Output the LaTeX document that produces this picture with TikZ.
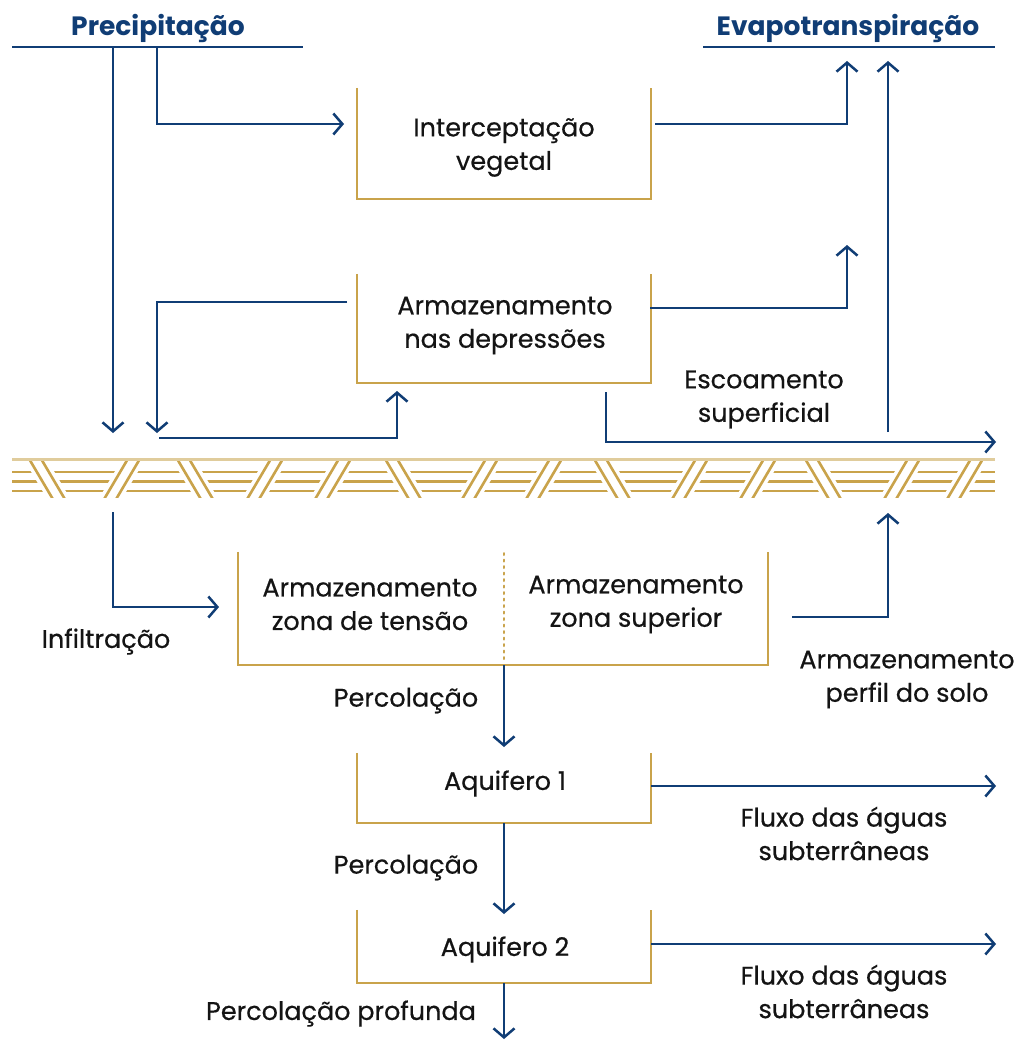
\documentclass[tikz,border=0pt]{standalone}
\usepackage{fontspec}
\setmainfont{Poppins}[UprightFeatures={FakeBold=0.5}]
\usetikzlibrary{arrows.meta}
\definecolor{navy}{RGB}{16,61,117}
\definecolor{gold}{RGB}{201,163,75}
\definecolor{paleGold}{RGB}{224,204,156}
\definecolor{ink}{RGB}{20,20,20}
\begin{document}
\begin{tikzpicture}[x=1pt,y=-1pt,
  wire/.style={draw=navy, line width=2.5pt},
  flow/.style={wire, -{Straight Barb[length=9pt,width=21pt]}},
  ubox/.style={draw=gold, line width=2.5pt},
  boxshape/.style={rectangle, inner sep=0pt, minimum width=294pt},
  txt/.style={align=center, text=ink, inner sep=0pt, yshift=-3.5pt,
              font=\fontsize{25.5}{33.5}\selectfont},
  head/.style={text=navy, inner sep=0pt, yshift=-4pt,
               font=\fontsize{26.5}{30}\selectfont\bfseries}]
\useasboundingbox[fill=white] (0,0) rectangle (1028,1041);

% headings
\node[head] (prec) at (158,24) {Precipitação};
\node[head] (evap) at (848,24) {Evapotranspiração};
\coordinate (precL) at (12,47);  \coordinate (precR) at (303,47);
\coordinate (evapL) at (703,47); \coordinate (evapR) at (995,47);
\draw[wire] (precL) -- (precR);
\draw[wire] (evapL) -- (evapR);

% storage boxes (open at the top)
\node[boxshape, minimum height=111pt] (icBox) at (504,143.5) {};
\node[boxshape, minimum height=109pt] (dpBox) at (504,328.5) {};
\node[rectangle, inner sep=0pt, minimum width=530pt, minimum height=113pt] (soilBox) at (503,608.5) {};
\node[boxshape, minimum height=70pt] (aq1Box) at (504,788) {};
\node[boxshape, minimum height=73pt] (aq2Box) at (504,946.5) {};
\foreach \b in {icBox,dpBox,soilBox,aq1Box,aq2Box}
  \draw[ubox] (\b.north west) |- (\b.south east) -- (\b.north east);
\draw[gold, line width=2pt, dash pattern=on 2pt off 4.5pt, line cap=round]
  (504,553) -- (504,660);

% box texts
\node[txt] (ic) at (504,144) {Interceptação\\vegetal};
\node[txt] (dp) at (505,322) {Armazenamento\\nas depressões};
\node[txt] (zt) at (370,601) {Armazenamento\\zona de tensão};
\node[txt] (zs) at (636,601) {Armazenamento\\zona superior};
\node[txt] (aq1) at (505,780) {Aquifero 1};
\node[txt] (aq2) at (505,946) {Aquifero 2};

% free labels
\node[txt] (esc) at (764,396) {Escoamento\\superficial};
\node[txt] (inf) at (106,638) {Infiltração};
\node[txt] (perf) at (907,676) {Armazenamento\\perfil do solo};
\node[txt] (perc1) at (406,697) {Percolação};
\node[txt] (flx1) at (844,830) {Fluxo das águas\\subterrâneas};
\node[txt] (perc2) at (406,864) {Percolação};
\node[txt] (flx2) at (844,988) {Fluxo das águas\\subterrâneas};
\node[txt] (perc3) at (341,1010) {Percolação profunda};

% ground surface
\begin{scope}
  \clip (12,460) rectangle (995,497.5);
  \foreach \y in {472,481.5,491}
    \draw[gold, line width=2.6pt] (12,\y) -- (995,\y);
  \foreach \cx/\d in {47/1,122/-1,195/1,265/-1,333/-1,403/1,480/-1,544/-1,
                      612/1,690/-1,758/-1,823/1,902/-1,965/-1} {
    \draw[white, line width=20pt] ({\cx-17.7*(\d)},449) -- ({\cx+17.7*(\d)},509);
    \foreach \o in {-6,6}
      \draw[gold, line width=2.6pt] ({\cx+(\o)-17.7*(\d)},449) -- ({\cx+(\o)+17.7*(\d)},509);
  }
\end{scope}
\draw[paleGold, line width=2.2pt] (12,459.5) -- (995,459.5);

% flow connector end points
\coordinate (pA) at (113,47);   \coordinate (pAe) at (113,433);
\coordinate (pB) at (157,47);   \coordinate (pBe) at (344,124);
\coordinate (iOut) at (655,124); \coordinate (eT1) at (847,61);
\coordinate (gUp) at (888,432);  \coordinate (eT2) at (888,61);
\coordinate (dOut) at (650,308); \coordinate (eT3) at (847,245);
\coordinate (dBack) at (347,302); \coordinate (gIn) at (157,433);
\coordinate (gOut) at (159,438); \coordinate (dIn) at (397,391);
\coordinate (sOut) at (606,392); \coordinate (sEnd) at (996,442);
\coordinate (iDown) at (113,512); \coordinate (zIn) at (219,607);
\coordinate (zOut) at (792,617); \coordinate (gUp2) at (888,513);
\coordinate (sb) at (504,665);   \coordinate (a1In) at (504,747);
\coordinate (a1Out) at (651,786); \coordinate (f1End) at (996,786);
\coordinate (a1b) at (504,823);  \coordinate (a2In) at (504,914);
\coordinate (a2Out) at (651,944); \coordinate (f2End) at (996,944);
\coordinate (a2b) at (504,983);  \coordinate (deep) at (504,1039);

\draw[flow] (pA) -- (pAe);
\draw[flow] (pB) |- (pBe);
\draw[flow] (iOut) -| (eT1);
\draw[flow] (gUp) -- (eT2);
\draw[flow] (dOut) -| (eT3);
\draw[flow] (dBack) -| (gIn);
\draw[flow] (gOut) -| (dIn);
\draw[flow] (sOut) |- (sEnd);
\draw[flow] (iDown) |- (zIn);
\draw[flow] (zOut) -| (gUp2);
\draw[flow] (sb) -- (a1In);
\draw[flow] (a1Out) -- (f1End);
\draw[flow] (a1b) -- (a2In);
\draw[flow] (a2Out) -- (f2End);
\draw[flow] (a2b) -- (deep);
\end{tikzpicture}
\end{document}
